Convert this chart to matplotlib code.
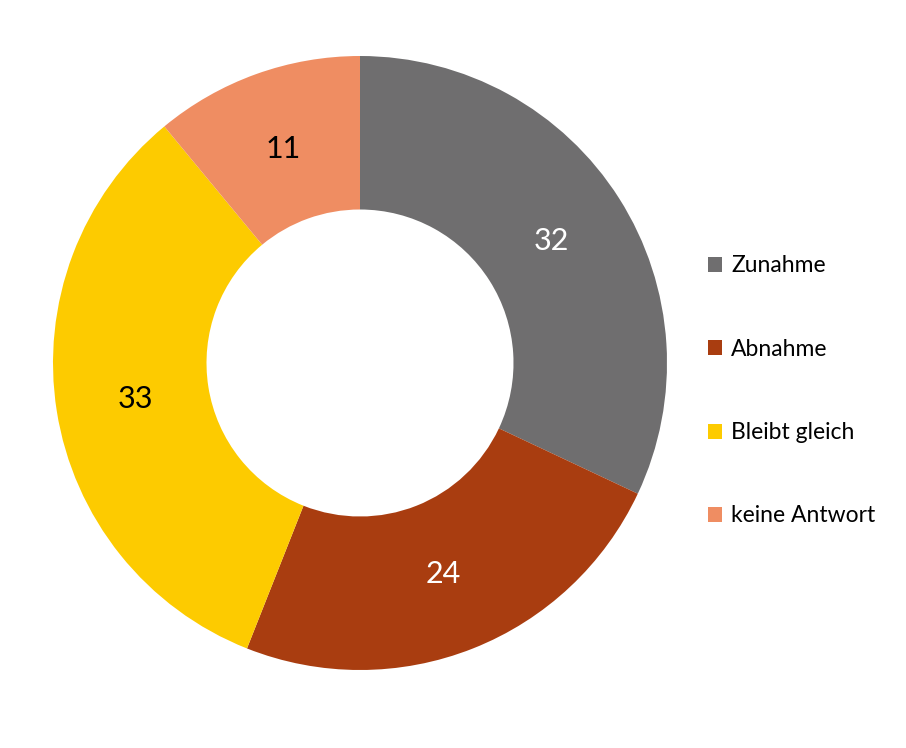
import numpy as np
import matplotlib.pyplot as plt
from matplotlib.patches import Patch

labels = ['Zunahme', 'Abnahme', 'Bleibt gleich', 'keine Antwort']
values = [32, 24, 33, 11]
colors = ['#6f6e6f', '#a93d10', '#fdcb00', '#ef8d62']
text_colors = ['white', 'white', 'black', 'black']

plt.rcParams['font.family'] = ['Lato', 'DejaVu Sans']

fig = plt.figure(figsize=(9.06, 7.48), dpi=100)
ax = fig.add_axes([53 / 906, 78 / 748, 614 / 906, 614 / 748])

wedges, texts = ax.pie(values, colors=colors, startangle=90, counterclock=False,
                       radius=1, wedgeprops=dict(width=0.5, linewidth=0))
for w, v, c in zip(wedges, values, text_colors):
    ang = np.deg2rad((w.theta1 + w.theta2) / 2)
    ax.text(0.74 * np.cos(ang), 0.74 * np.sin(ang), str(v), ha='center', va='center',
            fontsize=22, color=c)
ax.set_xlim(-1, 1)
ax.set_ylim(-1, 1)
ax.set_aspect('equal')
ax.axis('off')

handles = [Patch(facecolor=c, edgecolor='none') for c in colors]
fig.legend(handles, labels, loc='center left', bbox_to_anchor=(687 / 906, (748 - 391) / 748),
           frameon=False, fontsize=16.5, labelspacing=2.72, handlelength=0.62, handleheight=0.62,
           handletextpad=0.4)

fig.savefig('out.png', dpi=100, facecolor='white')
